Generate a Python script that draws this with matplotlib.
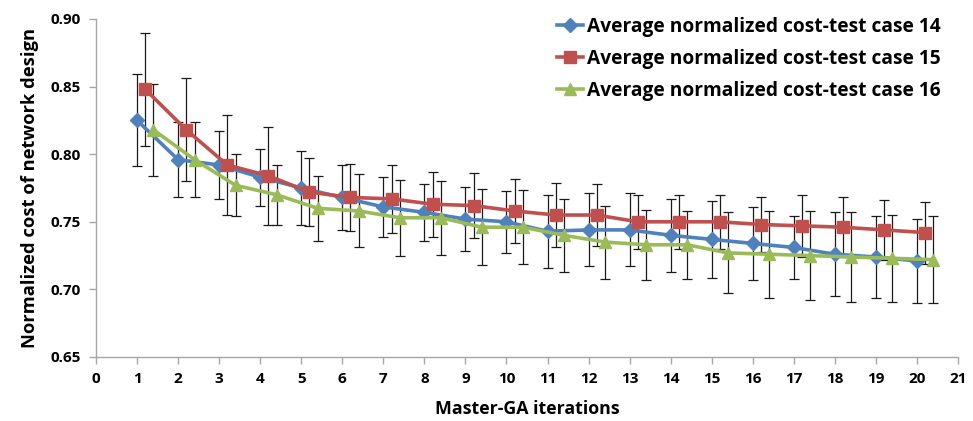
import matplotlib
matplotlib.use("Agg")
import matplotlib.pyplot as plt
import numpy as np

plt.rcParams['font.family'] = ['Open Sans', 'DejaVu Sans']

iterations = list(range(1, 21))

case14_mean = [0.825, 0.796, 0.792, 0.783, 0.775, 0.768, 0.761, 0.757, 0.752, 0.750,
               0.743, 0.744, 0.744, 0.740, 0.737, 0.734, 0.731, 0.726, 0.724, 0.721]
case14_err = [0.034, 0.028, 0.025, 0.021, 0.027, 0.024, 0.022, 0.021, 0.0235, 0.023,
              0.027, 0.027, 0.027, 0.027, 0.0285, 0.027, 0.023, 0.031, 0.030, 0.031]

case15_mean = [0.848, 0.818, 0.792, 0.784, 0.772, 0.768, 0.767, 0.763, 0.762, 0.758,
               0.755, 0.755, 0.750, 0.750, 0.750, 0.748, 0.747, 0.746, 0.744, 0.742]
case15_err = [0.042, 0.038, 0.037, 0.036, 0.025, 0.025, 0.025, 0.024, 0.024, 0.024,
              0.024, 0.023, 0.020, 0.020, 0.020, 0.020, 0.023, 0.022, 0.022, 0.023]

case16_mean = [0.818, 0.796, 0.777, 0.770, 0.760, 0.758, 0.753, 0.753, 0.746, 0.746,
               0.740, 0.735, 0.733, 0.733, 0.727, 0.726, 0.725, 0.724, 0.723, 0.722]
case16_err = [0.034, 0.028, 0.023, 0.022, 0.024, 0.027, 0.028, 0.0275, 0.028, 0.0275,
              0.027, 0.027, 0.026, 0.025, 0.030, 0.032, 0.033, 0.033, 0.032, 0.032]

labels = ["Average normalized cost-test case 14",
          "Average normalized cost-test case 15",
          "Average normalized cost-test case 16"]

series = [
    (case14_mean, case14_err, 0.0, '#4F81BD', 'D', 7),
    (case15_mean, case15_err, 0.2, '#C0504D', 's', 8.5),
    (case16_mean, case16_err, 0.4, '#9BBB59', '^', 9),
]

fig = plt.figure(figsize=(9.73, 4.21), dpi=100)
ax = fig.add_axes([96 / 973, 1 - 357 / 421, (958 - 96) / 973, (357 - 19) / 421])

for (mean, err, shift, color, marker, ms), label in zip(series, labels):
    x = np.array(iterations) + shift
    ax.errorbar(x, mean, yerr=err, fmt='none', ecolor='#1a1a1a', elinewidth=0.9,
                capsize=3.5, capthick=0.9, zorder=2)
    ax.plot(x, mean, color=color, lw=2.6, marker=marker, markersize=ms,
            markeredgecolor=color, label=label, zorder=3)

ax.set_xlim(0, 21)
ax.set_ylim(0.65, 0.90)
ax.set_xticks(range(0, 22))
yt = np.arange(0.65, 0.9001, 0.05)
ax.set_yticks(yt)
ax.set_yticklabels([f"{v:.2f}" for v in yt])

for side in ('top', 'right'):
    ax.spines[side].set_visible(False)
for side in ('left', 'bottom'):
    ax.spines[side].set_color('#a6a6a6')
    ax.spines[side].set_linewidth(1.0)
ax.tick_params(axis='both', colors='#a6a6a6', length=5, width=1, direction='out',
               labelcolor='black', labelsize=11, pad=6)
for lbl in ax.get_xticklabels() + ax.get_yticklabels():
    lbl.set_fontweight('bold')

ax.set_xlabel("Master-GA iterations", fontsize=12.8, fontweight='bold', labelpad=10)
ax.set_ylabel("Normalized cost of network design", fontsize=13.2, fontweight='bold', labelpad=8)

leg = fig.legend(loc='upper left', bbox_to_anchor=(557 / 973, 1 - 17 / 421), frameon=False,
                 prop={'size': 13.8, 'weight': 'bold'}, handlelength=1.35,
                 handletextpad=0.2, labelspacing=0.62, borderaxespad=0.0, borderpad=0.0)

fig.savefig("out.png", dpi=100)
